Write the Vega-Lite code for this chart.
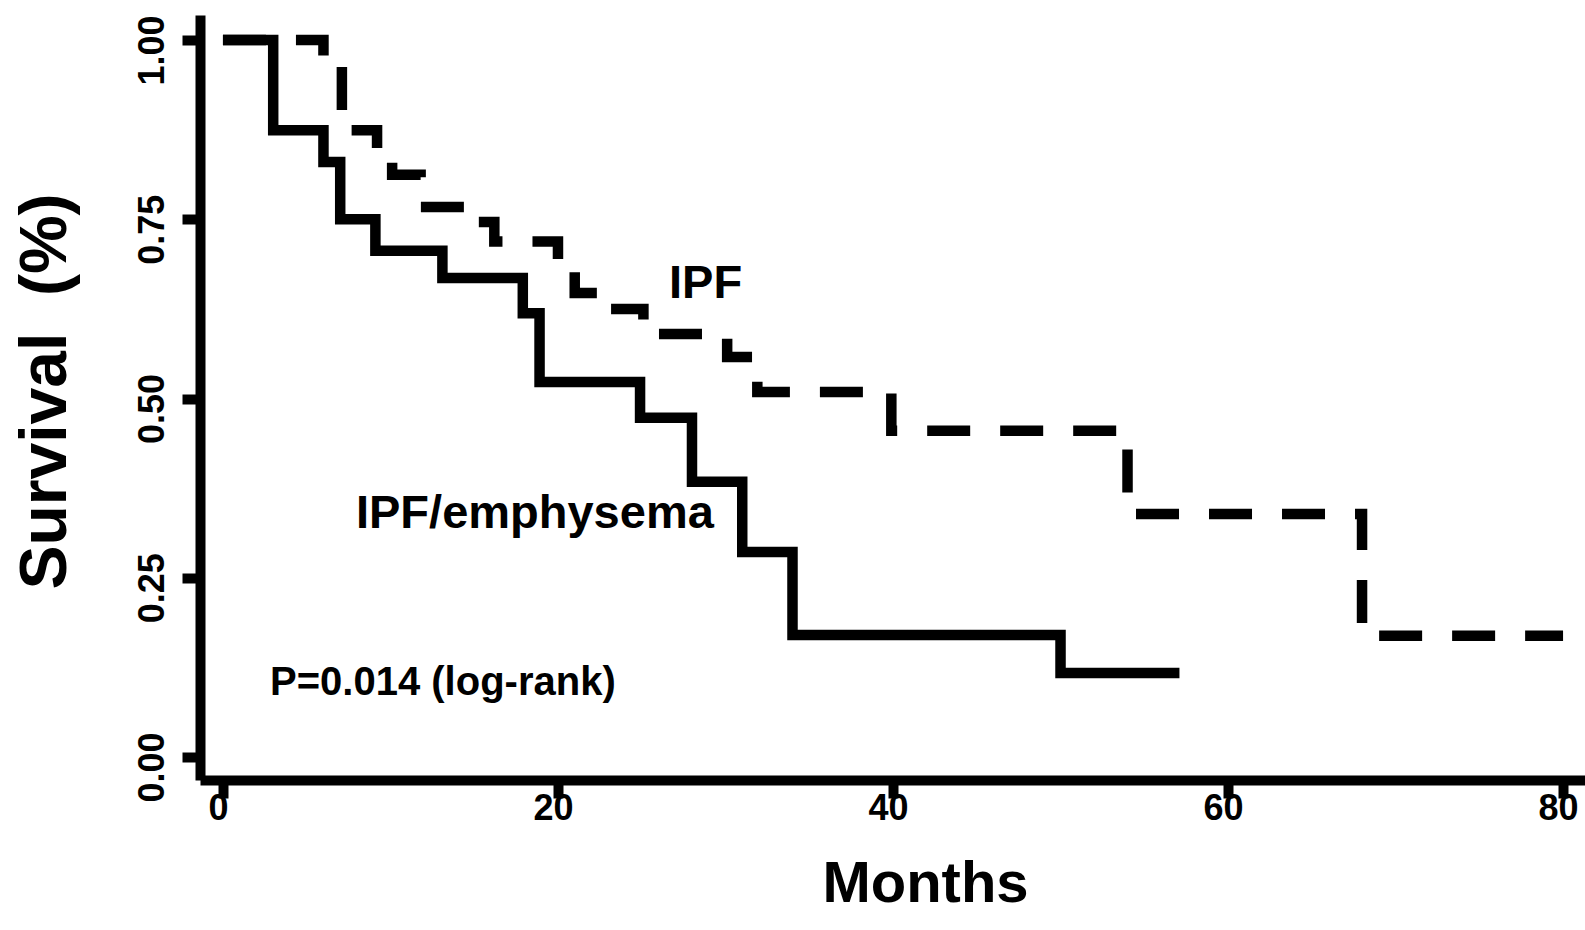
{
  "$schema": "https://vega.github.io/schema/vega-lite/v6.json",
  "width": 1385,
  "height": 765,
  "autosize": {"type": "none"},
  "padding": {"left": 200, "top": 15, "right": 0, "bottom": 150},
  "background": "white",
  "config": {"view": {"stroke": null}, "font": "Liberation Sans"},
  "datasets": {
    "curves": [
      {"group": "IPF/emphysema", "month": 0, "survival": 1.0},
      {"group": "IPF/emphysema", "month": 3.0, "survival": 0.874},
      {"group": "IPF/emphysema", "month": 6.0, "survival": 0.830},
      {"group": "IPF/emphysema", "month": 7.0, "survival": 0.750},
      {"group": "IPF/emphysema", "month": 9.1, "survival": 0.706},
      {"group": "IPF/emphysema", "month": 13.1, "survival": 0.668},
      {"group": "IPF/emphysema", "month": 17.9, "survival": 0.619},
      {"group": "IPF/emphysema", "month": 18.9, "survival": 0.523},
      {"group": "IPF/emphysema", "month": 24.9, "survival": 0.473},
      {"group": "IPF/emphysema", "month": 28.0, "survival": 0.384},
      {"group": "IPF/emphysema", "month": 31.0, "survival": 0.286},
      {"group": "IPF/emphysema", "month": 34.0, "survival": 0.170},
      {"group": "IPF/emphysema", "month": 50.0, "survival": 0.117},
      {"group": "IPF/emphysema", "month": 57.1, "survival": 0.117},
      {"group": "IPF", "month": 0, "survival": 1.0},
      {"group": "IPF", "month": 6.0, "survival": 0.965},
      {"group": "IPF", "month": 7.1, "survival": 0.874},
      {"group": "IPF", "month": 9.2, "survival": 0.838},
      {"group": "IPF", "month": 10.1, "survival": 0.812},
      {"group": "IPF", "month": 11.8, "survival": 0.767},
      {"group": "IPF", "month": 14.8, "survival": 0.746},
      {"group": "IPF", "month": 16.2, "survival": 0.719},
      {"group": "IPF", "month": 20.0, "survival": 0.687},
      {"group": "IPF", "month": 21.0, "survival": 0.647},
      {"group": "IPF", "month": 22.6, "survival": 0.625},
      {"group": "IPF", "month": 25.1, "survival": 0.590},
      {"group": "IPF", "month": 30.1, "survival": 0.558},
      {"group": "IPF", "month": 31.9, "survival": 0.509},
      {"group": "IPF", "month": 39.9, "survival": 0.455},
      {"group": "IPF", "month": 54.0, "survival": 0.339},
      {"group": "IPF", "month": 68.0, "survival": 0.169},
      {"group": "IPF", "month": 80.0, "survival": 0.169}
    ],
    "groupLabels": [
      {"label": "IPF", "month": 26.63, "survival": 0.640},
      {"label": "IPF/emphysema", "month": 7.94, "survival": 0.319}
    ],
    "pvalue": [
      {"label": "P=0.014 (log-rank)", "month": 2.81, "survival": 0.0865}
    ]
  },
  "layer": [
    {
      "data": {"name": "curves"},
      "mark": {"type": "line", "interpolate": "step-after", "strokeWidth": 10.5, "color": "black", "strokeCap": "butt", "strokeJoin": "miter"},
      "encoding": {
        "x": {
          "field": "month", "type": "quantitative",
          "scale": {"domain": [-1.37, 81.31], "nice": false, "zero": false},
          "axis": {
            "values": [0, 20, 40, 60, 80],
            "title": "Months",
            "grid": false,
            "domainColor": "black", "domainWidth": 10,
            "tickColor": "black", "tickWidth": 10, "tickSize": 18,
            "labelFont": "Liberation Sans", "labelFontSize": 36, "labelFontWeight": "bold", "labelColor": "black",
            "labelBaseline": "alphabetic", "labelAlign": "center", "labelPadding": 21, "labelOffset": -5,
            "labelFlush": false, "labelOverlap": false,
            "titleFont": "Liberation Sans", "titleFontSize": 58, "titleFontWeight": "bold", "titleColor": "black",
            "titleX": 725, "titleY": 121, "titleAlign": "center", "titleBaseline": "alphabetic"
          }
        },
        "y": {
          "field": "survival", "type": "quantitative",
          "scale": {"domain": [-0.03208, 1.03487], "nice": false, "zero": false},
          "axis": {
            "values": [0, 0.25, 0.5, 0.75, 1],
            "format": ".2f",
            "title": "Survival\u00a0\u00a0(%)",
            "grid": false,
            "domainColor": "black", "domainWidth": 10,
            "tickColor": "black", "tickWidth": 10, "tickSize": 18,
            "labelFont": "Liberation Sans", "labelFontSize": 36, "labelFontWeight": "bold", "labelColor": "black",
            "labelAngle": -90, "labelAlign": "center", "labelBaseline": "alphabetic", "labelPadding": 19, "labelOffset": 10,
            "labelFlush": false, "labelOverlap": false,
            "titleFont": "Liberation Sans", "titleFontSize": 66, "titleFontWeight": "bold", "titleColor": "black",
            "titleAngle": -90, "titleX": -135, "titleY": 376, "titleAlign": "center", "titleBaseline": "alphabetic"
          }
        },
        "detail": {"field": "group", "type": "nominal"},
        "strokeDash": {
          "field": "group", "type": "nominal",
          "scale": {"domain": ["IPF/emphysema", "IPF"], "range": [[1, 0], [43, 30]]},
          "legend": null
        }
      }
    },
    {
      "data": {"name": "groupLabels"},
      "mark": {"type": "text", "align": "left", "baseline": "alphabetic", "fontSize": 47, "fontWeight": "bold", "font": "Liberation Sans", "color": "black"},
      "encoding": {
        "x": {"field": "month", "type": "quantitative"},
        "y": {"field": "survival", "type": "quantitative"},
        "text": {"field": "label", "type": "nominal"}
      }
    },
    {
      "data": {"name": "pvalue"},
      "mark": {"type": "text", "align": "left", "baseline": "alphabetic", "fontSize": 40, "fontWeight": "bold", "font": "Liberation Sans", "color": "black"},
      "encoding": {
        "x": {"field": "month", "type": "quantitative"},
        "y": {"field": "survival", "type": "quantitative"},
        "text": {"field": "label", "type": "nominal"}
      }
    }
  ]
}
